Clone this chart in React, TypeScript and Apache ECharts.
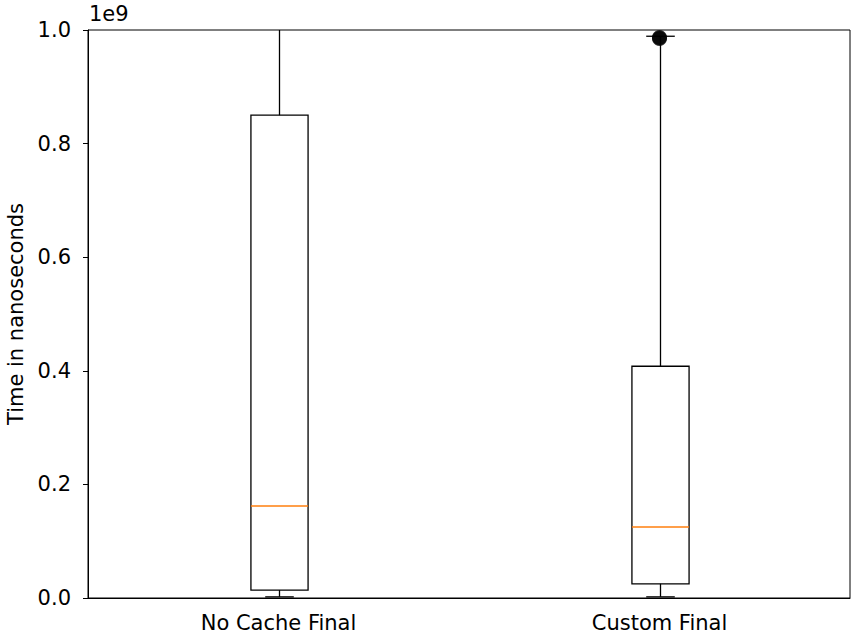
import React, { useEffect, useRef } from "react";
import * as echarts from "echarts";

const categories = ["No Cache Final", "Custom Final"];
// [lowWhisker, q1, median, q3, highWhisker] in nanoseconds
const lowWhisker = [0.002e9, 0.002e9];
const q1 = [0.014e9, 0.025e9];
const median = [0.162e9, 0.125e9];
const q3 = [0.85e9, 0.408e9];
const highWhisker = [1.2e9, 0.989e9];
// outliers: [categoryIndex, value]
const outliers = [
  [1, 0.985e9],
  [1, 0.987e9],
];
const yTicks = [0, 0.2e9, 0.4e9, 0.6e9, 0.8e9, 1.0e9];

export default function App() {
  const ref = useRef<HTMLDivElement>(null);
  useEffect(() => {
    document.body.style.margin = "0";
    const chart = echarts.init(ref.current!, null, { renderer: "svg" });
    const font = "DejaVu Sans";
    const fs = 21;
    const boxData = categories.map((_, i) => [
      i,
      lowWhisker[i],
      q1[i],
      median[i],
      q3[i],
      highWhisker[i],
    ]);
    chart.setOption({
      animation: false,
      backgroundColor: "#fff",
      grid: {
        left: 88,
        right: 2,
        top: 30,
        bottom: 35,
        outerBoundsMode: "none",
        containLabel: false,
        show: true,
        borderColor: "#000",
        borderWidth: 1,
        backgroundColor: "transparent",
      },
      graphic: [
        {
          type: "text",
          left: 89,
          top: 3,
          style: { text: "1e9", font: `${fs}px ${font}`, fill: "#000" },
        },
      ],
      xAxis: {
        type: "category",
        data: categories,
        boundaryGap: true,
        axisLine: { lineStyle: { color: "#000", width: 1 } },
        axisTick: { alignWithLabel: true, length: 5, lineStyle: { color: "#000" } },
        axisLabel: { color: "#000", fontFamily: font, fontSize: fs, margin: 14 },
        splitLine: { show: false },
      },
      yAxis: {
        type: "value",
        min: 0,
        max: 1e9,
        interval: 0.2e9,
        name: "Time in nanoseconds",
        nameLocation: "middle",
        nameGap: 62,
        nameTextStyle: { color: "#000", fontFamily: font, fontSize: fs },
        axisLine: { show: true, lineStyle: { color: "#000", width: 1 } },
        axisTick: { show: true, length: 5, lineStyle: { color: "#000" } },
        axisLabel: {
          color: "#000",
          fontFamily: font,
          fontSize: fs,
          margin: 17,
          formatter: (v: number) =>
            yTicks.includes(v) ? (v / 1e9).toFixed(1) : "",
        },
        splitLine: { show: false },
      },
      series: [
        {
          type: "custom",
          data: boxData,
          encode: { x: 0, y: [1, 2, 3, 4, 5] },
          renderItem: (params: any, api: any) => {
            const idx = api.value(0);
            const cs = params.coordSys;
            const clampY = (y: number) =>
              Math.min(Math.max(y, cs.y), cs.y + cs.height);
            const pt = (v: number) => api.coord([idx, v]);
            const cx = Math.round(pt(api.value(3))[0]) + 0.5;
            const band = api.size([1, 0])[0];
            const half = band * 0.15 / 2;
            const capHalf = half / 2;
            const yLow = clampY(pt(api.value(1))[1]);
            const yQ1 = clampY(pt(api.value(2))[1]);
            const yMed = clampY(pt(api.value(3))[1]);
            const yQ3 = clampY(pt(api.value(4))[1]);
            const yHigh = clampY(pt(api.value(5))[1]);
            const blk = { stroke: "#000", lineWidth: 1.3, fill: "none" };
            const children: any[] = [
              { type: "line", shape: { x1: cx, y1: yQ3, x2: cx, y2: yHigh }, style: blk },
              { type: "line", shape: { x1: cx, y1: yQ1, x2: cx, y2: yLow }, style: blk },
              {
                type: "rect",
                shape: { x: cx - half, y: yQ3, width: half * 2, height: yQ1 - yQ3 },
                style: blk,
              },
              {
                type: "line",
                shape: { x1: cx - half, y1: yMed, x2: cx + half, y2: yMed },
                style: { stroke: "#ff7f0e", lineWidth: 1.3 },
              },
              {
                type: "line",
                shape: { x1: cx - capHalf, y1: yLow, x2: cx + capHalf, y2: yLow },
                style: blk,
              },
            ];
            if (pt(api.value(5))[1] >= cs.y) {
              children.push({
                type: "line",
                shape: { x1: cx - capHalf, y1: yHigh, x2: cx + capHalf, y2: yHigh },
                style: blk,
              });
            }
            return { type: "group", children };
          },
        },
        {
          type: "scatter",
          data: outliers,
          clip: true,
          symbol: "circle",
          symbolSize: 15,
          itemStyle: { color: "#000" },
        },
      ],
    });
    return () => chart.dispose();
  }, []);
  return <div ref={ref} style={{ width: 852, height: 633 }} />;
}
